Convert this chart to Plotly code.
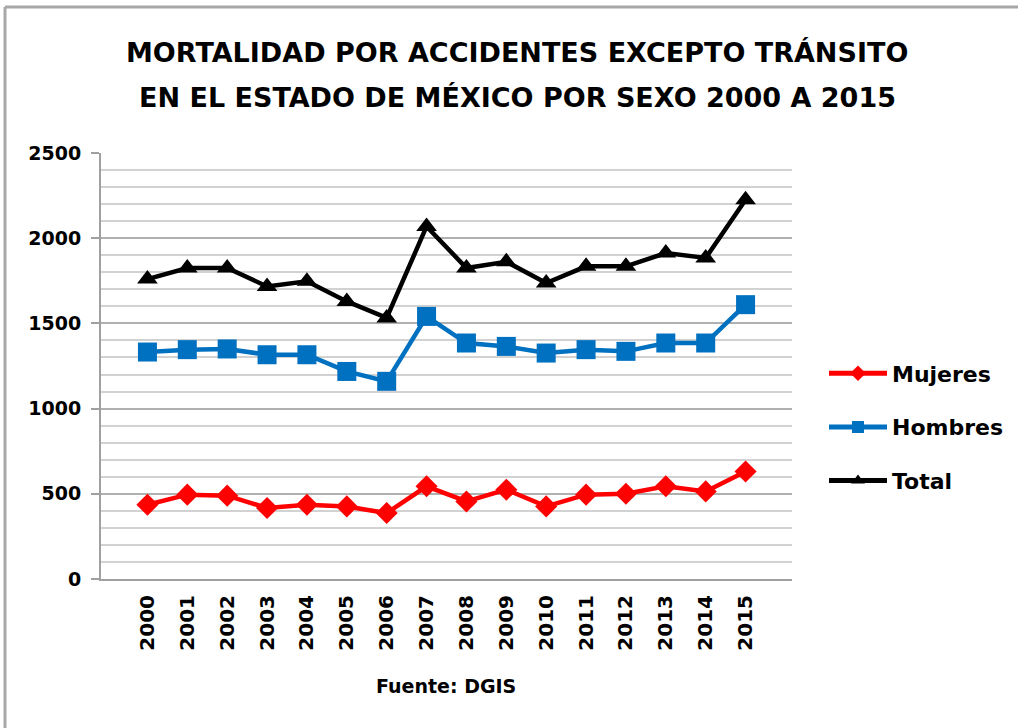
import plotly.graph_objects as go

# === Data ===
years = [str(y) for y in range(2000, 2016)]
mujeres = [436, 495, 489, 417, 436, 426, 387, 544, 455, 524, 426, 495, 500, 544, 514, 631]
hombres = [1332, 1346, 1350, 1316, 1316, 1218, 1160, 1541, 1385, 1365, 1326, 1346, 1336, 1385, 1385, 1610]
total = [1760, 1825, 1825, 1717, 1747, 1629, 1532, 2069, 1825, 1862, 1737, 1835, 1835, 1913, 1884, 2226]

FONT = "DejaVu Sans"

# === Plot area geometry (pixels in a 1018x728 page) ===
W, H = 1018, 728
L, R, T, B = 101, 792, 153, 579
pw, ph = R - L, B - T

def px(x):
    return (x - L) / pw

def py(y):
    return (B - y) / ph

series = [
    ("Mujeres", mujeres, "#FF0000", "diamond", 17),
    ("Hombres", hombres, "#0070C0", "square", 19),
    ("Total", total, "#000000", "triangle-up", 18),
]

fig = go.Figure()
for i, (name, vals, col, sym, size) in enumerate(series):
    fig.add_trace(go.Scatter(
        x=years, y=vals, name=name, mode="lines+markers",
        line=dict(color=col, width=4.5),
        marker=dict(symbol=sym, size=size, color=col),
        legendgroup=f"g{i}",
    ))

fig.update_layout(
    width=W, height=H,
    margin=dict(l=L, r=W - R, t=T, b=H - B, autoexpand=False),
    paper_bgcolor="white", plot_bgcolor="white",
    font=dict(family=FONT, color="black"),
    showlegend=True,
    legend=dict(
        x=px(824), y=py(427), xanchor="left", yanchor="middle",
        font=dict(family=FONT, size=22, weight="bold"),
        tracegroupgap=22, traceorder="grouped",
        itemwidth=58, itemsizing="constant", bgcolor="rgba(0,0,0,0)",
    ),
    xaxis=dict(
        type="category", showgrid=False, zeroline=False,
        showline=True, linecolor="#a0a0a0", linewidth=2,
        ticks="", tickangle=-90, ticklabelstandoff=6,
        tickfont=dict(family=FONT, size=20, weight="bold"),
    ),
    yaxis=dict(
        range=[0, 2500], dtick=500, tick0=0,
        showgrid=True, gridcolor="#b0b0b0", gridwidth=1.5,
        minor=dict(dtick=100, showgrid=True, gridcolor="#d2d2d2", gridwidth=1.5),
        showline=True, linecolor="#a0a0a0", linewidth=2,
        ticks="outside", ticklen=8, tickcolor="#a0a0a0", tickwidth=1.5,
        zeroline=False, ticklabelstandoff=6,
        tickfont=dict(family=FONT, size=19, weight="bold"),
    ),
    annotations=[
        dict(
            text="MORTALIDAD POR ACCIDENTES EXCEPTO TRÁNSITO",
            xref="paper", yref="paper", x=px(517), y=py(52),
            xanchor="center", yanchor="middle", showarrow=False,
            font=dict(family=FONT, size=27, weight="bold"),
        ),
        dict(
            text="EN EL ESTADO DE MÉXICO POR SEXO 2000 A 2015",
            xref="paper", yref="paper", x=px(517), y=py(97),
            xanchor="center", yanchor="middle", showarrow=False,
            font=dict(family=FONT, size=27, weight="bold"),
        ),
        dict(
            text="Fuente: DGIS",
            xref="paper", yref="paper", x=px(446), y=py(686),
            xanchor="center", yanchor="middle", showarrow=False,
            font=dict(family=FONT, size=19, weight="bold"),
        ),
    ],
    shapes=[
        dict(type="line", xref="paper", yref="paper",
             x0=px(5), x1=px(5), y0=py(7), y1=py(740),
             line=dict(color="#a8a8a8", width=3)),
        dict(type="line", xref="paper", yref="paper",
             x0=px(5), x1=px(1030), y0=py(7), y1=py(7),
             line=dict(color="#a8a8a8", width=3)),
    ],
)

fig.write_html("out.html", config={"displayModeBar": False},
               post_script="document.body.style.margin='0';")
